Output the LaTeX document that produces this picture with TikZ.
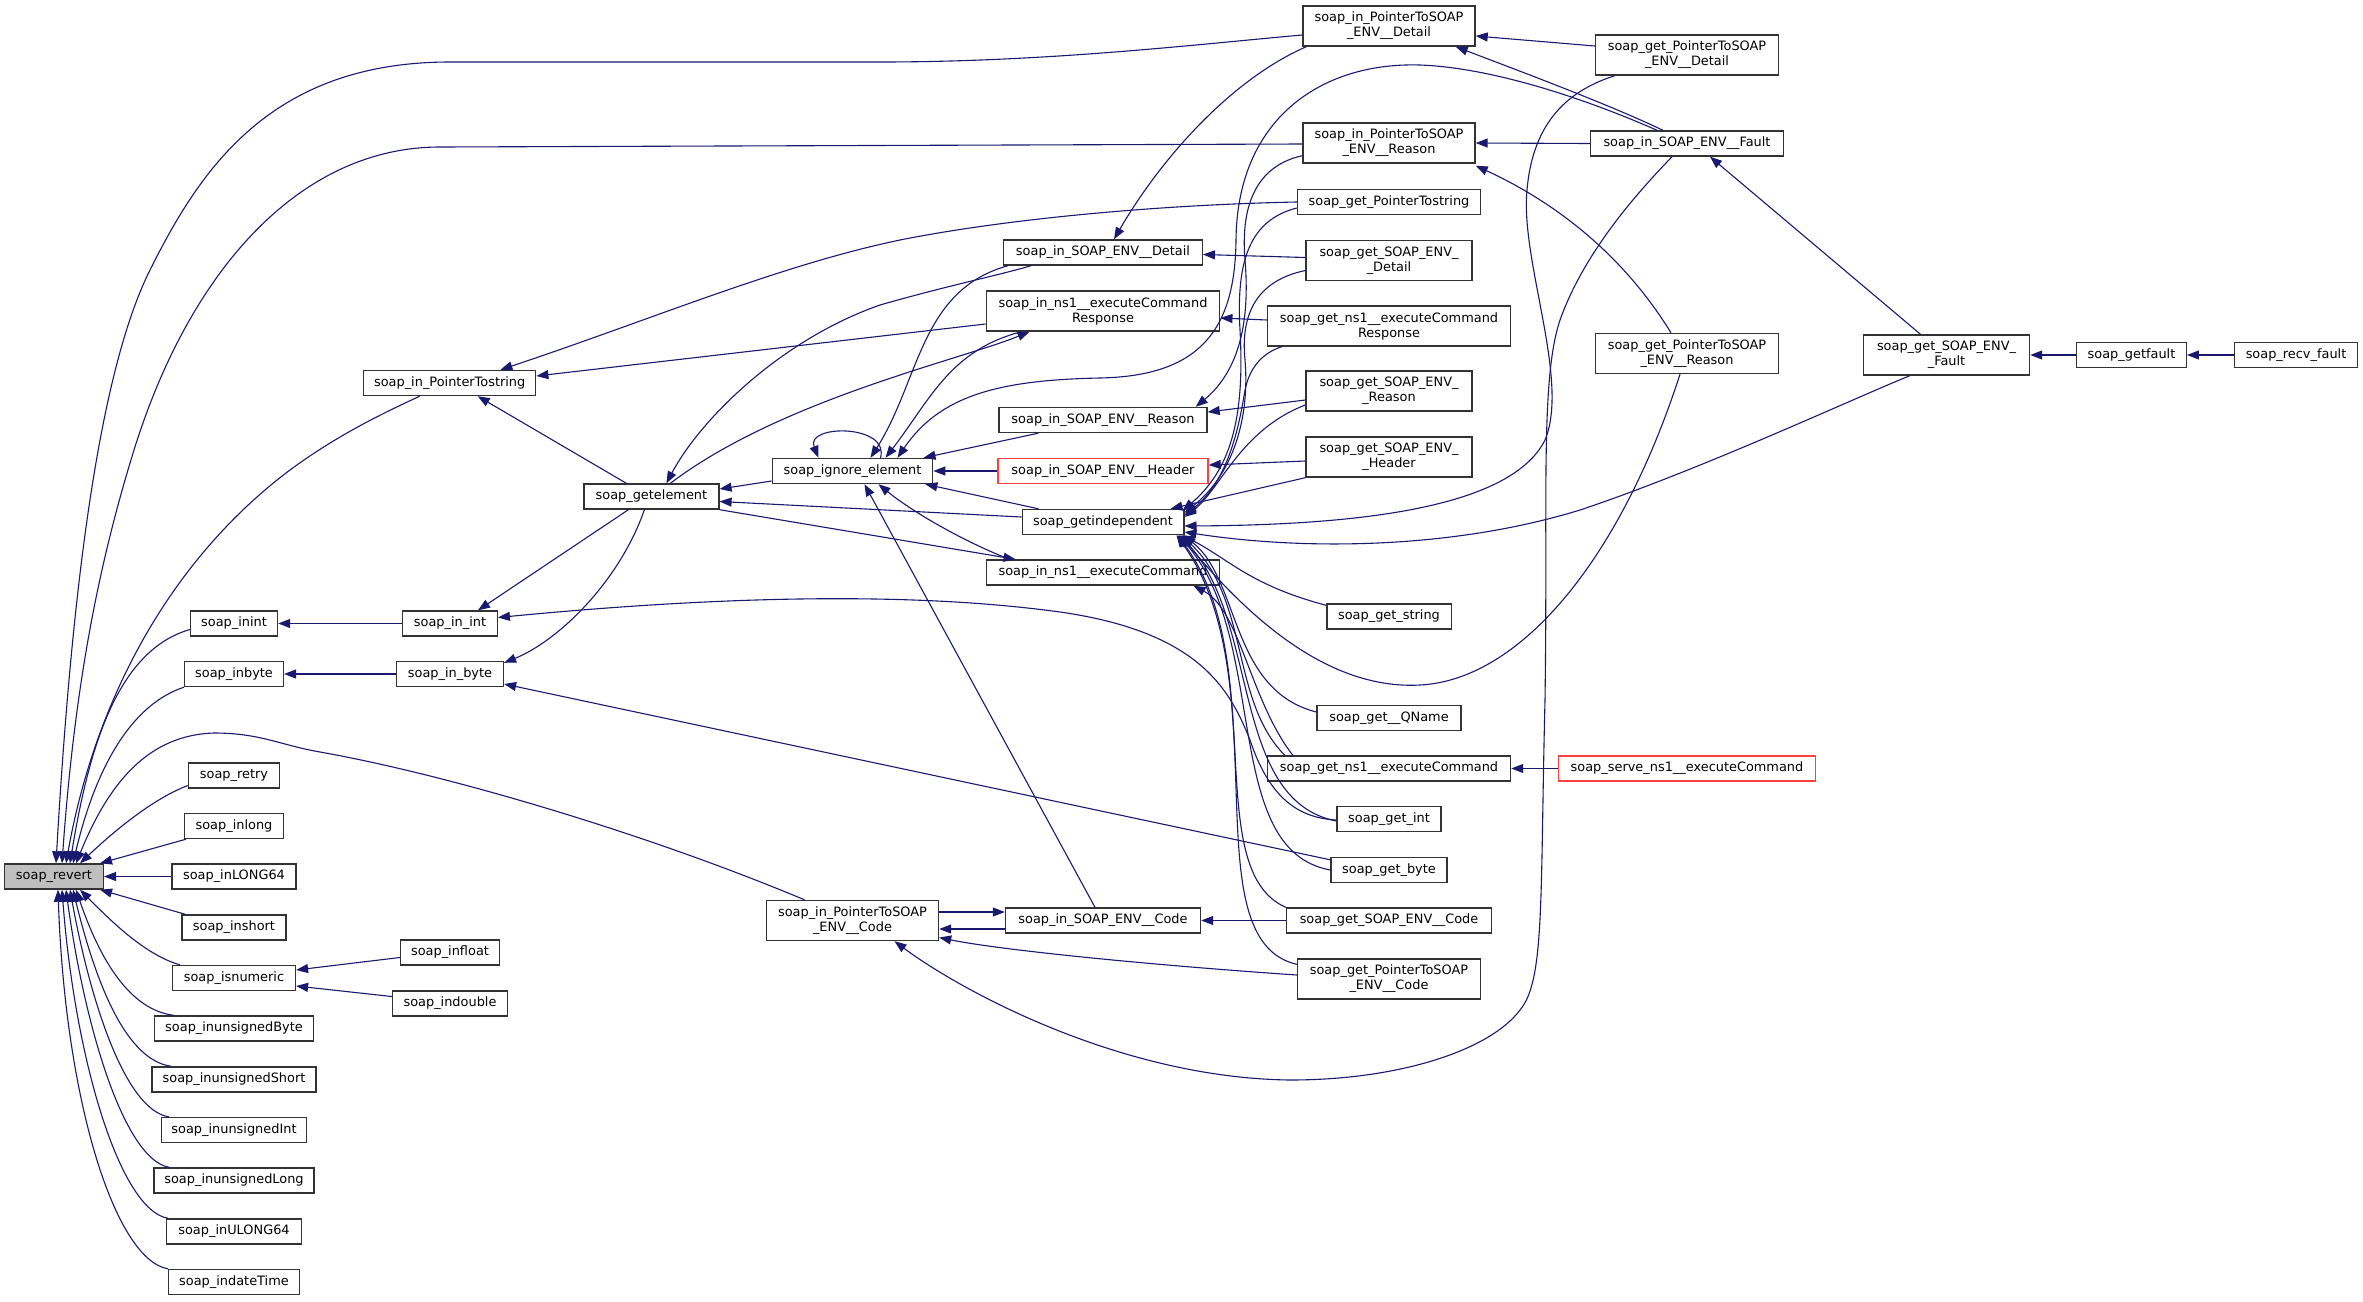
\documentclass[tikz,border=0pt]{standalone}
\usepackage{fontspec}
\newfontfamily\dvs{DejaVu Sans}
\usetikzlibrary{arrows.meta,calc}
\definecolor{mblue}{HTML}{191970}
\definecolor{nred}{HTML}{FF4040}
\definecolor{bord}{HTML}{333333}
\begin{document}
\begin{tikzpicture}[x=1pt,y=-1pt,
  >={Triangle[length=12pt,width=9pt]},
  fn/.style={draw=bord, line width=1.4pt, fill=white, inner sep=0pt, minimum height=25pt, align=center, text=black, font=\dvs\fontsize{12.9pt}{15pt}\selectfont},
  fn2/.style={fn, minimum height=40pt},
  rd/.style={draw=nred},
  cl/.style={draw=mblue, line width=1.1pt, <-}]
\fill[white] (0,0) rectangle (2363,1301);
\useasboundingbox (0,0) rectangle (2363,1301);
% column 0/1
\node[fn, minimum width=98.7pt, fill=black!25] (revert) at (54,876.5) {soap\_revert};
\node[fn, minimum width=87pt] (inint) at (234,623.5) {soap\_inint};
\node[fn, minimum width=98.7pt] (inbyte) at (234,674) {soap\_inbyte};
\node[fn, minimum width=91pt] (retry) at (234,775.5) {soap\_retry};
\node[fn, minimum width=98.7pt] (inlong) at (234,826) {soap\_inlong};
\node[fn, minimum width=124pt] (inLL) at (234,876.5) {soap\_inLONG64};
\node[fn, minimum width=104pt] (inshort) at (234,927.5) {soap\_inshort};
\node[fn, minimum width=122.8pt] (isnum) at (234,978) {soap\_isnumeric};
\node[fn, minimum width=159pt] (iuB) at (234,1028.5) {soap\_inunsignedByte};
\node[fn, minimum width=164pt] (iuS) at (234,1079.5) {soap\_inunsignedShort};
\node[fn, minimum width=145pt] (iuI) at (234,1130) {soap\_inunsignedInt};
\node[fn, minimum width=160pt] (iuL) at (234,1180.5) {soap\_inunsignedLong};
\node[fn, minimum width=134.7pt] (iUL) at (234,1231.5) {soap\_inULONG64};
\node[fn, minimum width=130.5pt] (idt) at (234,1282) {soap\_indateTime};
% column 2
\node[fn, minimum width=172pt] (inPts) at (449.7,383) {soap\_in\_PointerTostring};
\node[fn, minimum width=94.5pt] (inint2) at (450,623.5) {soap\_in\_int};
\node[fn, minimum width=106.8pt] (inbyte2) at (450,674) {soap\_in\_byte};
\node[fn, minimum width=99pt] (infloat) at (450,952.5) {soap\_infloat};
\node[fn, minimum width=115pt] (indouble) at (450,1003.5) {soap\_indouble};
% column 3/4
\node[fn, minimum width=135pt] (getel) at (651.4,496.5) {soap\_getelement};
\node[fn, minimum width=160.3pt] (ign) at (852.5,471) {soap\_ignore\_element};
\node[fn2, minimum width=172pt] (inPCode) at (852.5,920.5) {soap\_in\_PointerToSOAP\\\_ENV\_\_Code};
% column 5
\node[fn, minimum width=198.6pt] (inDet) at (1103,252.5) {soap\_in\_SOAP\_ENV\_\_Detail};
\node[fn2, minimum width=233.5pt] (inResp) at (1103,311) {soap\_in\_ns1\_\_executeCommand\\Response};
\node[fn, minimum width=208pt] (inReason) at (1103,420) {soap\_in\_SOAP\_ENV\_\_Reason};
\node[fn, rd, minimum width=210pt] (inHeader) at (1103,471) {soap\_in\_SOAP\_ENV\_\_Header};
\node[fn, minimum width=161.6pt] (getind) at (1103,522) {soap\_getindependent};
\node[fn, minimum width=233.5pt] (inCmd) at (1103,572.5) {soap\_in\_ns1\_\_executeCommand};
\node[fn, minimum width=195pt] (inCode) at (1103,920.5) {soap\_in\_SOAP\_ENV\_\_Code};
% column 6
\node[fn2, minimum width=172pt] (inPDet) at (1389,26) {soap\_in\_PointerToSOAP\\\_ENV\_\_Detail};
\node[fn2, minimum width=172pt] (inPReason) at (1389,143) {soap\_in\_PointerToSOAP\\\_ENV\_\_Reason};
\node[fn, minimum width=183pt] (getPts) at (1389,202) {soap\_get\_PointerTostring};
\node[fn2, minimum width=166pt] (getDet) at (1389,260.5) {soap\_get\_SOAP\_ENV\_\\\_Detail};
\node[fn2, minimum width=243pt] (getResp) at (1389,326) {soap\_get\_ns1\_\_executeCommand\\Response};
\node[fn2, minimum width=166pt] (getReason) at (1389,391) {soap\_get\_SOAP\_ENV\_\\\_Reason};
\node[fn2, minimum width=166pt] (getHeader) at (1389,457) {soap\_get\_SOAP\_ENV\_\\\_Header};
\node[fn, minimum width=124.4pt] (getstr) at (1389,616.5) {soap\_get\_string};
\node[fn, minimum width=144pt] (getQN) at (1389,718) {soap\_get\_\_QName};
\node[fn, minimum width=243pt] (getCmd) at (1389,768.5) {soap\_get\_ns1\_\_executeCommand};
\node[fn, minimum width=104pt] (getint) at (1389,819) {soap\_get\_int};
\node[fn, minimum width=116pt] (getbyte) at (1389,870) {soap\_get\_byte};
\node[fn, minimum width=205pt] (getCode) at (1389,920.5) {soap\_get\_SOAP\_ENV\_\_Code};
\node[fn2, minimum width=183pt] (getPCode) at (1389,979) {soap\_get\_PointerToSOAP\\\_ENV\_\_Code};
% column 7/8
\node[fn2, minimum width=183pt] (getPDet) at (1687,55) {soap\_get\_PointerToSOAP\\\_ENV\_\_Detail};
\node[fn, minimum width=192.6pt] (inFault) at (1687,143.5) {soap\_in\_SOAP\_ENV\_\_Fault};
\node[fn2, minimum width=183pt] (getPReason) at (1687,353.5) {soap\_get\_PointerToSOAP\\\_ENV\_\_Reason};
\node[fn, rd, minimum width=257pt] (serve) at (1687,768.5) {soap\_serve\_ns1\_\_executeCommand};
\node[fn2, minimum width=166pt] (getFault) at (1946.5,355) {soap\_get\_SOAP\_ENV\_\\\_Fault};
\node[fn, minimum width=109.5pt] (getfault) at (2131.5,355) {soap\_getfault};
\node[fn, minimum width=122.7pt] (recv) at (2296,355) {soap\_recv\_fault};

% edges into soap_revert
\draw[cl] ($(revert.north)+(2,0)$) .. controls (70,620) and (95,380) .. (150,270) .. controls (200,170) and (270,62) .. (450,62) -- (880,62) .. controls (1050,62) and (1200,44) .. ($(inPDet.west)+(0,9)$);
\draw[cl] ($(revert.north)+(8,0)$) .. controls (75,680) and (100,560) .. (134,450) .. controls (190,270) and (300,147) .. (440,147) -- ($(inPReason.west)+(0,1)$);
\draw[cl] ($(revert.north)+(12,0)$) .. controls (95,700) and (170,560) .. (290,470) .. controls (340,433) and (390,410) .. ($(inPts.south)+(-30,0)$);
\draw[cl] ($(revert.north)+(16,0)$) .. controls (90,740) and (120,650) .. ($(inint.west)+(0,6)$);
\draw[cl] ($(revert.north)+(19,0)$) .. controls (95,770) and (130,705) .. (inbyte.south west);
\draw[cl] ($(revert.north)+(22,0)$) .. controls (110,780) and (150,735) .. (214,733) .. controls (260,733) and (280,745) .. (320,752) .. controls (450,775) and (650,835) .. ($(inPCode.north)+(-48,0)$);
\draw[cl] ($(revert.north)+(26,0)$) .. controls (110,835) and (150,800) .. ($(retry.west)+(0,10)$);
\draw[cl] ($(revert.north east)+(-4,0)$) -- ($(inlong.south west)+(2,0)$);
\draw[cl] (revert.east) -- (inLL.west);
\draw[cl] ($(revert.south east)+(-4,0)$) -- ($(inshort.north west)+(4,0)$);
\draw[cl] ($(revert.south)+(26,0)$) .. controls (110,920) and (145,955) .. ($(isnum.north west)+(8,0)$);
\draw[cl] ($(revert.south)+(22,0)$) .. controls (100,960) and (130,1010) .. ($(iuB.north west)+(20,0)$);
\draw[cl] ($(revert.south)+(19,0)$) .. controls (95,980) and (125,1060) .. ($(iuS.north west)+(20,0)$);
\draw[cl] ($(revert.south)+(16,0)$) .. controls (90,1000) and (125,1110) .. ($(iuI.north west)+(8,0)$);
\draw[cl] ($(revert.south)+(12,0)$) .. controls (85,1030) and (125,1160) .. ($(iuL.north west)+(16,0)$);
\draw[cl] ($(revert.south)+(8,0)$) .. controls (75,1060) and (120,1210) .. ($(iUL.north west)+(2,0)$);
\draw[cl] ($(revert.south)+(4,0)$) .. controls (65,1100) and (115,1260) .. (idt.north west);

% left part
\draw[cl] (inint.east) -- (inint2.west);
\draw[cl] (inbyte.east) -- (inbyte2.west);
\draw[cl] ($(isnum.east)+(0,-8)$) -- ($(infloat.west)+(0,5)$);
\draw[cl] ($(isnum.east)+(0,8)$) -- ($(indouble.west)+(0,-7)$);
\draw[cl] ($(inPts.south)+(28,0)$) -- ($(getel.north)+(-25,0)$);
\draw[cl] ($(inPts.east)+(0,-7)$) -- ($(inResp.west)+(0,13)$);
\draw[cl] ($(inPts.north east)+(-36,0)$) .. controls (650,320) and (780,265) .. (900,240) .. controls (1000,220) and (1150,205) .. (getPts.west);
\draw[cl] ($(inint2.north)+(28,0)$) -- ($(getel.south)+(-23,0)$);
\draw[cl] ($(inint2.east)+(0,-6)$) .. controls (700,598) and (900,590) .. (1060,612) .. controls (1200,632) and (1230,690) .. (1250,740) .. controls (1270,800) and (1300,818) .. ($(getint.west)+(0,1)$);
\draw[cl] ($(inbyte2.north east)+(0,2)$) .. controls (560,640) and (620,580) .. ($(getel.south)+(-7,0)$);
\draw[cl] ($(inbyte2.east)+(0,10)$) -- ($(getbyte.north west)+(0,3)$);

% getelement / ignore_element
\draw[cl] ($(getel.east)+(0,-7.5)$) -- ($(ign.west)+(0,10)$);
\draw[cl] ($(getel.east)+(0,5)$) -- ($(getind.west)+(0,-5)$);
\draw[cl] ($(inCmd.north west)+(30,0)$) -- (getel.south east);
\draw[cl] ($(getel.north)+(15,0)$) .. controls (700,420) and (780,340) .. (880,305) .. controls (950,285) and (1000,275) .. ($(inDet.south west)+(28,0)$);
\draw[cl] ($(inResp.south west)+(44,0)$) .. controls (960,360) and (780,400) .. ($(getel.north)+(19,0)$);
\draw[cl] ($(ign.north)+(-34,0)$) .. controls (805,424) and (890,424) .. ($(ign.north)+(28,0)$);
\draw[cl] ($(ign.north)+(18,0)$) .. controls (920,380) and (920,290) .. ($(inDet.south west)+(5,0)$);
\draw[cl] ($(ign.north)+(33,0)$) .. controls (930,400) and (950,350) .. ($(inResp.south west)+(36,0)$);
\draw[cl] ($(ign.north)+(45,0)$) .. controls (940,395) and (1000,380) .. (1100,378) .. controls (1200,376) and (1235,330) .. (1236,240) .. controls (1237,120) and (1320,62) .. (1420,65) .. controls (1500,68) and (1600,105) .. ($(inFault.north)+(-30,0)$);
\draw[cl] ($(ign.north)+(71,0)$) -- ($(inReason.south west)+(40,0)$);
\draw[cl] (ign.east) -- (inHeader.west);
\draw[cl] ($(ign.south east)+(-8,0)$) -- ($(getind.north west)+(17,0)$);
\draw[cl] ($(ign.south)+(12,0)$) -- ($(inCode.north)+(-8,0)$);
\draw[cl] ($(ign.south)+(26,0)$) .. controls (910,510) and (960,540) .. ($(inCmd.north west)+(24,0)$);

% column 5 inputs
\draw[cl] ($(inDet.north)+(11,0)$) .. controls (1160,160) and (1230,80) .. ($(inPDet.south west)+(4,0)$);
\draw[cl] ($(inDet.east)+(0,2)$) -- ($(getDet.west)+(0,-3)$);
\draw[cl] ($(inResp.east)+(0,7)$) -- ($(getResp.west)+(0,-6)$);
\draw[cl] ($(inReason.north east)+(-12,0)$) .. controls (1240,370) and (1250,320) .. (1245,260) .. controls (1240,200) and (1260,165) .. ($(inPReason.south west)+(0,-8)$);
\draw[cl] ($(inReason.east)+(0,-8)$) -- ($(getReason.west)+(0,9)$);
\draw[cl] ($(inHeader.east)+(0,-6)$) -- ($(getHeader.west)+(0,4)$);
\draw[cl] ($(inCmd.south east)+(-27,0)$) .. controls (1240,610) and (1250,700) .. ($(getCmd.north west)+(26,0)$);
\draw[cl] (inCode.east) -- (getCode.west);
\draw[cl] ($(inCode.west)+(0,-8.5)$) -- ($(inPCode.east)+(0,-8.5)$);
\draw[cl] ($(inPCode.east)+(0,8.5)$) -- ($(inCode.west)+(0,8.5)$);
\draw[cl] ($(inPCode.east)+(0,17)$) .. controls (1000,950) and (1150,965) .. ($(getPCode.west)+(0,-4)$);
\draw[cl] ($(inPCode.south)+(42,0)$) .. controls (960,990) and (1120,1078) .. (1290,1080) .. controls (1400,1080) and (1490,1050) .. (1520,1010) .. controls (1545,980) and (1540,900) .. (1545,700) .. controls (1548,500) and (1540,380) .. (1560,320) .. controls (1585,250) and (1640,190) .. ($(inFault.south)+(-15,0)$);

% soap_getindependent callers
\draw[cl] ($(getind.north east)+(-14,0)$) -- (getHeader.south west);
\draw[cl] ($(getind.north east)+(-2,2)$) .. controls (1230,470) and (1245,420) .. (1240,330) .. controls (1236,260) and (1250,220) .. ($(getPts.west)+(0,6)$);
\draw[cl] ($(getind.north east)+(0,4)$) .. controls (1232,475) and (1250,420) .. (1245,360) .. controls (1240,310) and (1260,280) .. ($(getDet.west)+(0,10)$);
\draw[cl] ($(getind.east)+(0,-7)$) .. controls (1230,480) and (1240,420) .. (1245,390) .. controls (1250,365) and (1265,352) .. ($(getResp.south west)+(15,0)$);
\draw[cl] ($(getind.east)+(0,-5)$) .. controls (1220,490) and (1240,430) .. ($(getReason.west)+(0,14)$);
\draw[cl] ($(getind.east)+(0,4)$) .. controls (1350,525) and (1510,510) .. (1545,440) .. controls (1570,380) and (1520,260) .. (1527,190) .. controls (1533,120) and (1570,90) .. ($(getPDet.south west)+(20,0)$);
\draw[cl] ($(getind.east)+(0,10)$) .. controls (1300,550) and (1450,550) .. (1580,510) .. controls (1700,470) and (1850,400) .. ($(getFault.south west)+(47,0)$);
\draw[cl] ($(getind.south east)+(-4,0)$) .. controls (1250,620) and (1330,690) .. (1420,685) .. controls (1520,680) and (1620,560) .. ($(getPReason.south)+(-7,0)$);
\draw[cl] ($(getind.south east)+(-2,0)$) .. controls (1230,560) and (1250,585) .. ($(getstr.north west)+(0,2)$);
\draw[cl] ($(getind.south east)+(-1,0)$) .. controls (1240,580) and (1230,690) .. ($(getQN.west)+(0,-6)$);
\draw[cl] ($(getind.south east)+(-3,0)$) .. controls (1250,600) and (1230,700) .. ($(getCmd.north west)+(18,0)$);
\draw[cl] ($(getind.south east)+(-5,0)$) .. controls (1260,620) and (1230,800) .. ($(getint.west)+(0,2)$);
\draw[cl] ($(getind.south east)+(-6,0)$) .. controls (1270,640) and (1220,850) .. (getbyte.west);
\draw[cl] ($(getind.south east)+(-7,0)$) .. controls (1270,660) and (1200,870) .. (getCode.north west);
\draw[cl] ($(getind.south east)+(-8,0)$) .. controls (1280,680) and (1190,940) .. ($(getPCode.north west)+(0,6)$);

% right part
\draw[cl] ($(inPReason.south east)+(0,2)$) .. controls (1550,200) and (1620,250) .. ($(getPReason.north)+(-16,0)$);
\draw[cl] (inPReason.east) -- (inFault.west);
\draw[cl] ($(inPDet.east)+(0,10)$) -- ($(getPDet.west)+(0,-9)$);
\draw[cl] ($(inPDet.south east)+(-20,0)$) .. controls (1530,75) and (1610,105) .. ($(inFault.north)+(-24,0)$);
\draw[cl] ($(inFault.south)+(23,0)$) -- ($(getFault.north)+(-26,0)$);
\draw[cl] (getFault.east) -- (getfault.west);
\draw[cl] (getfault.east) -- (recv.west);
\draw[cl] (getCmd.east) -- (serve.west);
\end{tikzpicture}
\end{document}
